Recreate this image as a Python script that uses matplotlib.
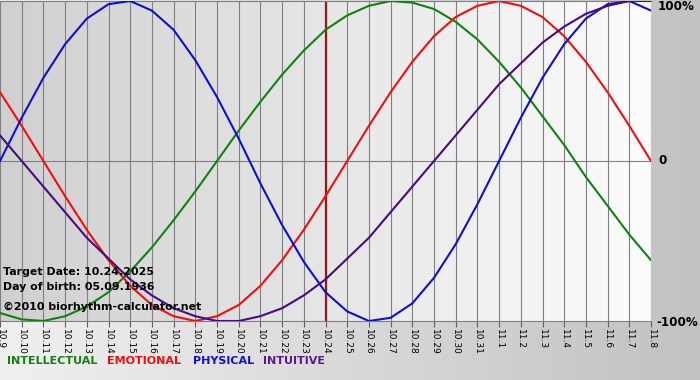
import numpy as np
import matplotlib
matplotlib.use("Agg")
import matplotlib.pyplot as plt
from matplotlib.colors import LinearSegmentedColormap

# ---- data (percent values per day) ----
day_labels = ["10.9", "10.10", "10.11", "10.12", "10.13", "10.14", "10.15", "10.16",
              "10.17", "10.18", "10.19", "10.20", "10.21", "10.22", "10.23", "10.24",
              "10.25", "10.26", "10.27", "10.28", "10.29", "10.30", "10.31",
              "11.1", "11.2", "11.3", "11.4", "11.5", "11.6", "11.7", "11.8"]
intellectual = [-95, -99, -100, -97, -91, -82, -69, -54, -37, -19, 0, 19, 37, 54, 69, 82,
                91, 97, 100, 99, 95, 87, 76, 62, 46, 28, 10, -10, -28, -46, -62]
emotional = [43, 22, 0, -22, -43, -62, -78, -90, -97, -100, -97, -90, -78, -62, -43, -22,
             0, 22, 43, 62, 78, 90, 97, 100, 97, 90, 78, 62, 43, 22, 0]
physical = [0, 27, 52, 73, 89, 98, 100, 94, 82, 63, 40, 14, -14, -40, -63, -82,
            -94, -100, -98, -89, -73, -52, -27, 0, 27, 52, 73, 89, 98, 100, 94]
intuitive = [16, 0, -16, -32, -48, -61, -74, -84, -92, -97, -100, -100, -97, -92, -84, -74,
             -61, -48, -32, -16, 0, 16, 32, 48, 61, 74, 84, 92, 97, 100, 100]
target_index = 15
target_text = "Target Date: 10.24.2025"
birth_text = "Day of birth: 05.09.1936"
copy_text = "\u00a92010 biorhythm-calculator.net"
series_names = ["INTELLECTUAL", "EMOTIONAL", "PHYSICAL", "INTUITIVE"]
series_colors = ["#0f820f", "#ee1010", "#1010cc", "#4a0a80"]
legend_colors = ["#0f820f", "#ee1010", "#1010cc", "#5a1a8a"]

W, H = 700, 380
fig = plt.figure(figsize=(W / 100, H / 100), dpi=100)

# figure background gradient
bg = fig.add_axes([0, 0, 1, 1], zorder=-10)
bg.set_axis_off()
gcm = LinearSegmentedColormap.from_list("g", ["#f0f0f0", "#c2c2c2"])
bg.imshow(np.linspace(0, 1, 256).reshape(1, -1), cmap=gcm, aspect="auto",
          extent=[0, 1, 0, 1])
bg.set_xlim(0, 1)
bg.set_ylim(0, 1)

# plot axes
x0, x1 = 0, 651
ytop, ybot = 1, 321
ax = fig.add_axes([x0 / W, (H - ybot) / H, (x1 - x0) / W, (ybot - ytop) / H])
days = np.arange(len(day_labels))
ax.set_xlim(0, len(day_labels) - 1)
ax.set_ylim(-100, 100)

pcm = LinearSegmentedColormap.from_list("p", ["#d0d0d0", "#fcfcfc"])
ax.imshow(np.linspace(0, 1, 256).reshape(1, -1), cmap=pcm, aspect="auto",
          extent=[0, len(day_labels) - 1, -100, 100], zorder=0)

for d in days:
    ax.axvline(d, color="#808080", lw=0.8, zorder=1)
ax.axhline(0, color="#808080", lw=0.8, zorder=1)

ax.axvline(days[target_index], color="#8b1a1a", lw=1.6, zorder=2)

for vals, c in zip([intellectual, emotional, physical, intuitive], series_colors):
    ax.plot(days, vals, color=c, lw=1.5, zorder=3, solid_joinstyle="round",
            solid_capstyle="round")

for s in ["left", "right"]:
    ax.spines[s].set_visible(False)
for s in ["bottom", "top"]:
    ax.spines[s].set_color("#808080")
    ax.spines[s].set_linewidth(0.8)

ax.set_yticks([])
ax.set_xticks(days)
ax.set_xticklabels(day_labels, rotation=270, fontsize=6.5, color="black",
                   va="top", ha="center")
ax.tick_params(axis="x", length=4, width=0.8, color="#606060", pad=2)

# right side labels
fig.text(658 / W, 1 - 7 / H, "100%", fontsize=8.6, fontweight="bold", va="center", ha="left")
fig.text(658 / W, 1 - 161 / H, "0", fontsize=8.6, fontweight="bold", va="center", ha="left")
fig.text(656 / W, 1 - 322 / H, "-100%", fontsize=8.6, fontweight="bold", va="center", ha="left")

# info text
fig.text(3 / W, 1 - 272 / H, target_text, fontsize=7.9, fontweight="bold", va="center", ha="left")
fig.text(3 / W, 1 - 287 / H, birth_text, fontsize=7.9, fontweight="bold", va="center", ha="left")
fig.text(3 / W, 1 - 307 / H, copy_text, fontsize=7.9, fontweight="bold", va="center", ha="left")

# legend
leg_x = [7, 107, 193, 263]
for name, c, lx in zip(series_names, legend_colors, leg_x):
    fig.text(lx / W, 1 - 361 / H, name, fontsize=8.0, fontweight="bold", color=c,
             va="center", ha="left")

fig.savefig("out.png", dpi=100)
